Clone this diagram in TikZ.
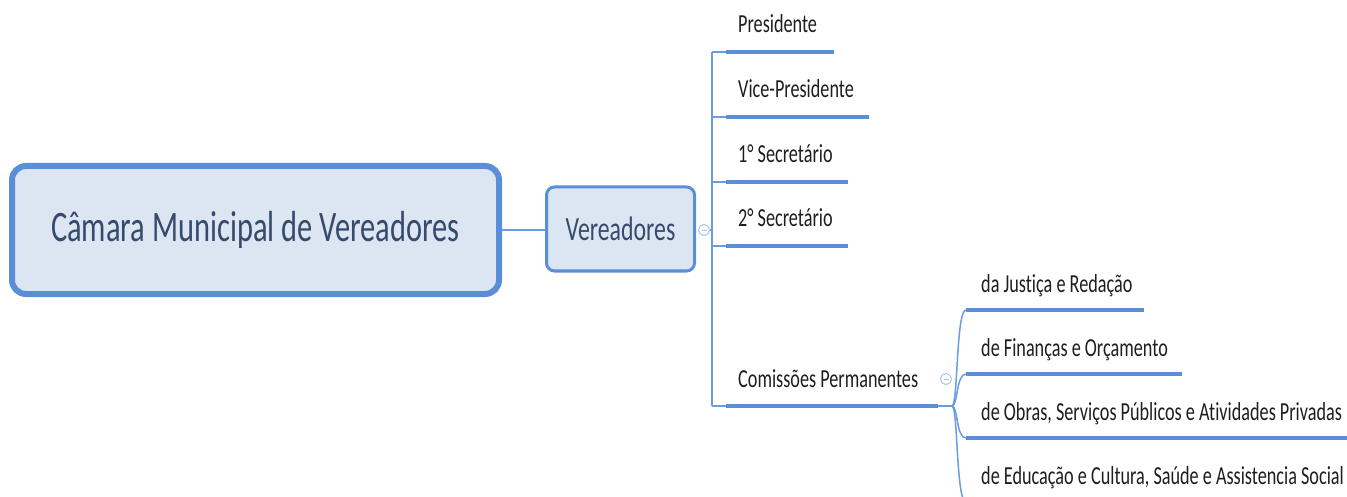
\documentclass[tikz,border=0pt]{standalone}
\usepackage{fontspec}
\newfontfamily\mapfont[FakeStretch=0.7,Ligatures=NoCommon]{Carlito}
\definecolor{linecol}{HTML}{5A8ED8}
\definecolor{thincol}{HTML}{6B9BE0}
\definecolor{boxfill}{HTML}{DCE6F2}
\definecolor{maintext}{HTML}{364A6C}
\definecolor{leaftext}{HTML}{1E1E1E}
\definecolor{circcol}{HTML}{A9C4EB}
\tikzset{
  mainbox/.style={draw=linecol, line width=6pt, fill=boxfill, rounded corners=14pt,
    minimum width=487pt, minimum height=128pt, text=maintext,
    font=\mapfont\fontsize{43.5}{50}\selectfont, inner sep=0pt},
  subbox/.style={draw=linecol, line width=3pt, fill=boxfill, rounded corners=8pt,
    minimum width=148pt, minimum height=84pt, text=maintext,
    font=\mapfont\fontsize{34}{40}\selectfont, inner sep=0pt},
  leaf/.style={anchor=base west, inner sep=0pt, text=leaftext,
    font=\mapfont\fontsize{26}{30}\selectfont},
  uline/.style={draw=linecol, line width=4.5pt},
  conn/.style={draw=thincol, line width=1.5pt},
  collapse/.style={circle, draw=circcol, fill=white, line width=1pt,
    minimum size=11pt, inner sep=0pt},
}
\begin{document}
\begin{tikzpicture}[x=1pt,y=-1pt]
\useasboundingbox (0,0) rectangle (1347,497);
\clip (0,0) rectangle (1347,497);
% main nodes
\node[mainbox] (main) at (255.5,230) {\raisebox{-2pt}{Câmara Municipal de Vereadores}};
\node[subbox] (ver) at (620.5,229) {\raisebox{-1pt}{Vereadores}};
\draw[conn] (main.east) -- (main.east -| ver.west);
% collapse circle
\node[collapse] (c1) at (704,230) {};
\draw[circcol, line width=0.8pt] ([xshift=-2.5pt]c1.center) -- ([xshift=2.5pt]c1.center);
\coordinate (trtop) at (712,52);
\coordinate (trbot) at (712,406);
\coordinate (trmid) at (712,230);
\draw[conn] (c1.east) -- (trmid);
\draw[conn] (trtop) -- (trbot);
% leaves of Vereadores
\foreach \nm/\txt/\y/\xe in {pres/Presidente/52/834, vice/Vice-Presidente/117/869,
    sec1/1° Secretário/182/848, sec2/2° Secretário/246/848, com/Comissões Permanentes/406/938}{
  \coordinate (\nm-a) at (726,\y);
  \coordinate (\nm-b) at (\xe,\y);
  \coordinate (\nm-t) at (712,\y);
  \node[leaf] (\nm) at (738,\y-19) {\txt};
  \draw[conn] (\nm-t) -- (\nm-a);
  \draw[uline] (\nm-a) -- (\nm-b);
}
% collapse circle for Comissões
\node[collapse] (c2) at (946,379) {};
\draw[circcol, line width=0.8pt] ([xshift=-2.5pt]c2.center) -- ([xshift=2.5pt]c2.center);
% sub branch junction
\coordinate (junc) at (952,406);
\draw[conn] (com-b) -- (junc);
\foreach \nm/\txt/\y/\xe in {jus/{da Just\kern0pt iça e Redação}/310/1144, fin/{de Finanças e Orçamento}/374/1182,
    obr/{de Obras, Serviços Públicos e At\kern0pt ividades Privadas}/438/1352,
    edu/{de Educação e Cultura, Saúde e Assistencia Social}/502/1340}{
  \coordinate (\nm-a) at (966,\y);
  \coordinate (\nm-b) at (\xe,\y);
  \node[leaf] (\nm) at (981,\y-18) {\txt};
  \draw[conn] (junc) .. controls (958,406) and (956,\y) .. (\nm-a);
  \draw[uline] (\nm-a) -- (\nm-b);
}
\end{tikzpicture}
\end{document}
